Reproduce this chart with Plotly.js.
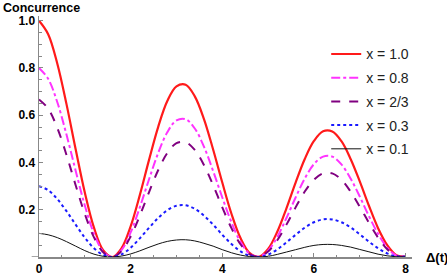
<!DOCTYPE html>
<html>
<head>
<meta charset="utf-8">
<script src="https://cdn.plot.ly/plotly-3.0.1.min.js"></script>
<style>html,body{margin:0;padding:0;background:#fff;}#chart{width:447px;height:275px;}</style>
</head>
<body>
<div id="chart"></div>
<script>
// Δ(t) sample positions
var tValues = [0,0.2,0.4,0.6,0.8,1.0,1.2,1.4,1.6,1.8,2.0,2.2,2.4,2.6,2.8,3.0,3.2,3.4,3.6,3.8,4.0,
               4.2,4.4,4.6,4.8,5.0,5.2,5.4,5.6,5.8,6.0,6.2,6.4,6.6,6.8,7.0,7.2,7.4,7.6,7.8,8.0];

// Concurrence, one array per x
var cX10 = [1.000,0.943,0.818,0.647,0.456,0.273,0.124,0.029,0.000,0.037,0.130,0.262,0.410,0.550,0.660,0.722,0.729,0.680,0.584,0.455,0.315,
            0.183,0.079,0.016,0.001,0.034,0.107,0.206,0.315,0.415,0.491,0.532,0.531,0.490,0.415,0.320,0.217,0.122,0.050,0.008,0.002];
var cX08 = [0.800,0.754,0.655,0.518,0.365,0.218,0.099,0.024,0.000,0.029,0.104,0.210,0.328,0.440,0.528,0.578,0.583,0.544,0.467,0.364,0.252,
            0.147,0.063,0.013,0.001,0.027,0.085,0.165,0.252,0.332,0.393,0.425,0.425,0.392,0.332,0.256,0.173,0.098,0.040,0.006,0.002];
var cX23 = [0.667,0.628,0.546,0.432,0.304,0.182,0.083,0.020,0.000,0.025,0.087,0.175,0.274,0.367,0.440,0.482,0.486,0.453,0.389,0.304,0.210,
            0.122,0.053,0.011,0.001,0.023,0.071,0.137,0.210,0.277,0.327,0.354,0.354,0.327,0.277,0.213,0.145,0.082,0.033,0.005,0.001];
var cX03 = [0.300,0.283,0.245,0.194,0.137,0.082,0.037,0.009,0.000,0.011,0.039,0.079,0.123,0.165,0.198,0.217,0.219,0.204,0.175,0.137,0.094,
            0.055,0.024,0.005,0.000,0.010,0.032,0.062,0.094,0.124,0.147,0.159,0.159,0.147,0.125,0.096,0.065,0.037,0.015,0.002,0.001];
var cX01 = [0.100,0.094,0.082,0.065,0.046,0.027,0.012,0.003,0.000,0.004,0.013,0.026,0.041,0.055,0.066,0.072,0.073,0.068,0.058,0.046,0.031,
            0.018,0.008,0.002,0.000,0.003,0.011,0.021,0.031,0.041,0.049,0.053,0.053,0.049,0.042,0.032,0.022,0.012,0.005,0.001,0.000];

var seriesNames = ["x = 1.0","x = 0.8","x = 2/3","x = 0.3","x = 0.1"];
var xTickVals = [0,2,4,6,8];
var xTickText = ["0","2","4","6","8"];
var yTickVals = [0.2,0.4,0.6,0.8,1.0];
var yTickText = ["0.2","0.4","0.6","0.8","1.0"];

var seriesData = [cX10,cX08,cX23,cX03,cX01];
var styles = [
  {color:"#ff1a1a", width:2.2, dash:"solid"},
  {color:"#ff33ff", width:2.0, dash:"dashdot"},
  {color:"#800080", width:2.0, dash:"dash"},
  {color:"#1a1aff", width:2.0, dash:"dot"},
  {color:"#111111", width:1.0, dash:"solid"}
];

var traces = seriesData.map(function(ys,i){
  return {
    x: tValues, y: ys, type:"scatter", mode:"lines", name: seriesNames[i],
    legendgroup: "g"+i,
    line: {color: styles[i].color, width: styles[i].width, dash: styles[i].dash, shape:"spline", smoothing:1},
    hoverinfo:"skip"
  };
});

var axisGray = "#888888";
var tickFont = {family:"Liberation Sans, Arial, sans-serif", size:12, color:"#000", weight:"bold"};

var layout = {
  width:447, height:275,
  margin:{l:39, r:35, t:16, b:18, pad:0},
  paper_bgcolor:"#fff", plot_bgcolor:"#fff",
  showlegend:true,
  legend:{
    x:0.77, y:0.907, xanchor:"left", yanchor:"top",
    bgcolor:"rgba(0,0,0,0)", borderwidth:0,
    font:{family:"Liberation Sans, Arial, sans-serif", size:14, color:"#222"},
    tracegroupgap:2.5, itemwidth:30
  },
  xaxis:{
    range:[0,8.14], showgrid:false, zeroline:false,
    showline:true, linecolor:axisGray, linewidth:1.5,
    tickvals:xTickVals, ticktext:xTickText,
    ticks:"inside", ticklen:4, tickwidth:1, tickcolor:axisGray,
    tickfont:tickFont,
    minor:{dtick:0.5, tick0:0, ticks:"inside", ticklen:2.5, tickcolor:axisGray, tickwidth:1, showgrid:false}
  },
  yaxis:{
    range:[0,1.02], showgrid:false, zeroline:false,
    showline:true, linecolor:axisGray, linewidth:1.5,
    tickvals:yTickVals, ticktext:yTickText,
    ticks:"inside", ticklen:4, tickwidth:1, tickcolor:axisGray,
    tickfont:tickFont,
    minor:{dtick:0.05, tick0:0, ticks:"inside", ticklen:2.5, tickcolor:axisGray, tickwidth:1, showgrid:false}
  },
  shapes:[
    {type:"line", xref:"paper", yref:"y", x0:-0.0196, x1:0, y0:0, y1:0, line:{color:axisGray, width:1.5}}
  ],
  annotations:[
    {text:"Concurrence", xref:"paper", yref:"paper", x:-0.102, y:1.035, xanchor:"left", yanchor:"middle",
     showarrow:false, font:{family:"Liberation Sans, Arial, sans-serif", size:12.5, color:"#000", weight:"bold"}},
    {text:"Δ(t)", xref:"paper", yref:"y", x:1, y:0, xanchor:"left", yanchor:"middle", xshift:12,
     showarrow:false, font:{family:"Liberation Sans, Arial, sans-serif", size:13, color:"#000", weight:"bold"}}
  ]
};

Plotly.newPlot("chart", traces, layout, {staticPlot:true, displayModeBar:false});
</script>
</body>
</html>
